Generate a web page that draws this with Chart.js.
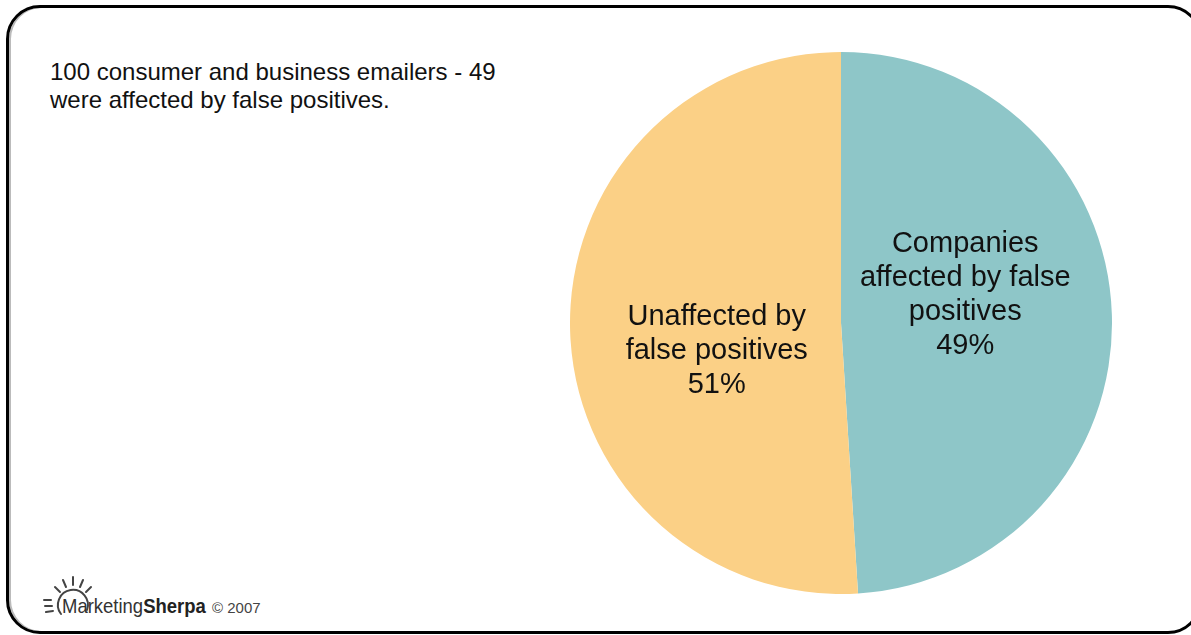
<!DOCTYPE html>
<html>
<head>
<meta charset="utf-8">
<script src="https://cdn.jsdelivr.net/npm/chart.js@4/dist/chart.umd.min.js"></script>
<style>
  html, body { margin: 0; padding: 0; background: #fff; }
  body { width: 1191px; height: 635px; position: relative; overflow: hidden; font-family: "Liberation Sans", Arial, Helvetica, sans-serif; }
  #frame { position: absolute; left: 6px; top: 5px; width: 1190px; height: 623px; border: 3px solid #000; border-radius: 34px; box-shadow: inset 2px 0 0 #bbb; }
  #note { position: absolute; left: 50px; top: 58px; font-size: 24px; line-height: 28px; color: #111; }
  #chartBox { position: absolute; left: 570px; top: 52px; width: 542px; height: 542px; }
  #logo { position: absolute; left: 40px; top: 570px; }
  #logoText { position: absolute; left: 62px; top: 594px; font-size: 21px; color: #333; white-space: nowrap; transform: scaleX(0.88); transform-origin: left top; }
  #logoText b { color: #222; }
  #logoCopy { position: absolute; left: 212px; top: 599px; font-size: 15px; color: #444; white-space: nowrap; }
</style>
</head>
<body>
<div id="frame"></div>
<div id="note">100 consumer and business emailers - 49<br>were affected by false positives.</div>
<div id="chartBox"><canvas id="pieChart"></canvas></div>
<svg id="logo" width="62" height="50" viewBox="0 0 62 50">
  <g stroke="#444" stroke-width="2" fill="none" stroke-linecap="round">
    <path d="M 21 44 A 15 15 0 1 1 47 40" />
    <line x1="33" y1="7" x2="33" y2="15" />
    <line x1="23" y1="10" x2="26" y2="17" />
    <line x1="43" y1="10" x2="40" y2="17" />
    <line x1="15" y1="17" x2="20" y2="22" />
    <line x1="51" y1="17" x2="46" y2="22" />
    <line x1="4" y1="30" x2="11" y2="30" />
    <line x1="5" y1="36" x2="12" y2="36" />
    <line x1="6" y1="42" x2="13" y2="41" />
  </g>
</svg>
<div id="logoText">Marketing<b>Sherpa</b></div>
<div id="logoCopy">© 2007</div>

<script>
// --- Chart data ---
const sliceLabels = [
    ['Companies', 'affected by false', 'positives'],
    ['Unaffected by', 'false positives']
];
const sliceValues = [49, 51];
const sliceColors = ['#8ec6c8', '#fbd086'];

// Draws the multi-line label and percentage inside each slice
const sliceLabelPlugin = {
    id: 'sliceLabels',
    afterDatasetsDraw(chart, args, opts) {
        const ctx = chart.ctx;
        const meta = chart.getDatasetMeta(0);
        const total = sliceValues.reduce((a, b) => a + b, 0);
        ctx.save();
        ctx.font = opts.font;
        ctx.fillStyle = opts.color;
        ctx.textAlign = 'center';
        ctx.textBaseline = 'middle';
        meta.data.forEach((arc, i) => {
            const p = arc.getProps(['x', 'y', 'startAngle', 'endAngle', 'outerRadius'], true);
            const mid = (p.startAngle + p.endAngle) / 2 + opts.angleShift;
            const r = p.outerRadius * opts.radiusFraction;
            const cx = p.x + Math.cos(mid) * r;
            const cy = p.y + Math.sin(mid) * r;
            const lines = sliceLabels[i].concat([Math.round(sliceValues[i] / total * 100) + '%']);
            const top = cy - (lines.length - 1) * opts.lineHeight / 2;
            lines.forEach((line, j) => ctx.fillText(line, cx, top + j * opts.lineHeight));
        });
        ctx.restore();
    }
};

new Chart(document.getElementById('pieChart'), {
    type: 'pie',
    data: {
        labels: sliceLabels.map(l => l.join(' ')),
        datasets: [{
            data: sliceValues,
            backgroundColor: sliceColors,
            borderWidth: 0
        }]
    },
    options: {
        responsive: true,
        maintainAspectRatio: false,
        animation: false,
        layout: { padding: 0 },
        plugins: {
            legend: { display: false },
            tooltip: { enabled: false },
            sliceLabels: {
                font: '29px "Liberation Sans", Arial, sans-serif',
                color: '#111',
                lineHeight: 34,
                radiusFraction: 0.47,
                angleShift: -0.19
            }
        }
    },
    plugins: [sliceLabelPlugin]
});
</script>
</body>
</html>
